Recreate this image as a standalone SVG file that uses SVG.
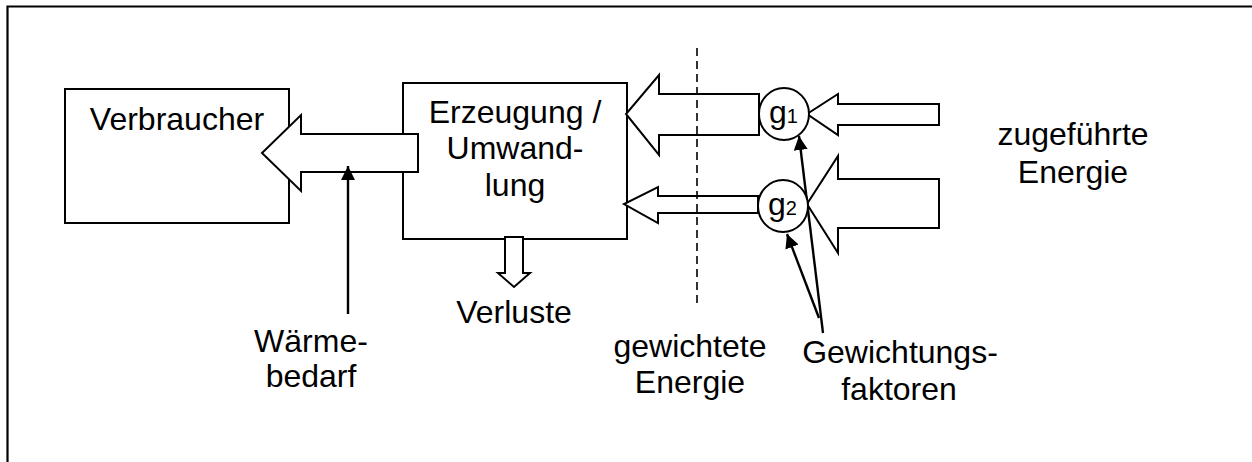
<svg xmlns="http://www.w3.org/2000/svg" width="1252" height="462" viewBox="0 0 1252 462">
  <style>
    .box { fill: #fff; stroke: #000; stroke-width: 2; }
    .flow { fill: #fff; stroke: #000; stroke-width: 2; stroke-linejoin: miter; }
    .ptr { stroke: #000; stroke-width: 2.4; fill: none; }
    .lbl { font-family: "Liberation Sans", Arial, sans-serif; font-size: 32px; fill: #000; text-anchor: middle; }
    .g { font-family: "Liberation Sans", Arial, sans-serif; font-size: 32px; fill: #000; }
    .sub { font-size: 20px; }
  </style>
  <defs>
    <marker id="ah" markerWidth="8" markerHeight="8" refX="7" refY="4" orient="auto" markerUnits="userSpaceOnUse" viewBox="0 0 8 8">
      <path d="M0,0 L8,4 L0,8 Z" fill="#000"/>
    </marker>
    <marker id="ahb" viewBox="0 0 14 14" refX="14" refY="7" markerWidth="14" markerHeight="14" orient="auto" markerUnits="userSpaceOnUse">
      <path d="M0,0 L14,7 L0,14 Z" fill="#000"/>
    </marker>
  </defs>

  <rect width="1252" height="462" fill="#fff"/>
  <!-- frame -->
  <path d="M7.5,462 L7.5,6.5 L1252,6.5" fill="none" stroke="#000" stroke-width="2.2"/>

  <g id="verbraucher">
    <rect class="box" x="65" y="89" width="224" height="134"/>
    <text class="lbl" x="177" y="130">Verbraucher</text>
  </g>

  <g id="erzeugung">
    <rect class="box" x="403" y="83" width="224" height="156"/>
    <text class="lbl" x="515" y="123">Erzeugung /</text>
    <text class="lbl" x="515" y="159">Umwand-</text>
    <text class="lbl" x="515" y="196">lung</text>
  </g>

  <g id="connectors">
    <!-- heat arrow to consumer -->
    <polygon class="flow" points="418,134 301,134 301,115 262,153 301,191 301,172 418,172"/>
    <!-- loss arrow -->
    <polygon class="flow" points="505,237 523,237 523,273 530,273 514,287 498,273 505,273"/>
    <!-- weighted energy arrows -->
    <polygon class="flow" points="759,94 659,94 659,75 626,114 659,155 659,135 759,135"/>
    <polygon class="flow" points="758,196 658,196 658,187 624,204 658,223 658,213 758,213"/>
    <!-- supplied energy arrows -->
    <polygon class="flow" points="939,104 838,104 838,94 807,114 838,135 838,125 939,125"/>
    <polygon class="flow" points="939,179 838,179 838,156 807,204 838,253 838,228 939,228"/>
    <!-- dashed boundary -->
    <line x1="697" y1="48" x2="697" y2="308" stroke="#000" stroke-width="1.6" stroke-dasharray="8,5"/>
    <!-- pointer arrows -->
    <line class="ptr" x1="348" y1="314" x2="348" y2="166" marker-end="url(#ahb)"/>
    <line class="ptr" x1="823" y1="333" x2="799" y2="136" marker-end="url(#ahb)"/>
    <line class="ptr" x1="819" y1="318" x2="787" y2="234" marker-end="url(#ahb)"/>
  </g>

  <g id="g1">
    <ellipse class="box" cx="784" cy="114" rx="25" ry="26"/>
    <text class="g" x="769" y="123">g<tspan class="sub">1</tspan></text>
  </g>

  <g id="g2">
    <ellipse class="box" cx="783" cy="206" rx="25" ry="26"/>
    <text class="g" x="768" y="215">g<tspan class="sub">2</tspan></text>
  </g>

  <g id="labels">
    <text class="lbl" x="311" y="352">Wärme-</text>
    <text class="lbl" x="311" y="387">bedarf</text>
    <text class="lbl" x="514" y="323">Verluste</text>
    <text class="lbl" x="690" y="357">gewichtete</text>
    <text class="lbl" x="690" y="393">Energie</text>
    <text class="lbl" x="900" y="363">Gewichtungs-</text>
    <text class="lbl" x="899" y="400">faktoren</text>
    <text class="lbl" x="1073" y="145">zugeführte</text>
    <text class="lbl" x="1073" y="183">Energie</text>
  </g>
</svg>
